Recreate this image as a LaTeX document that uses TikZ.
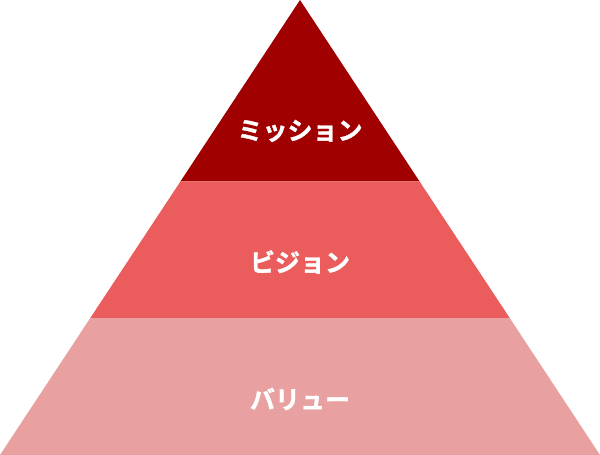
\documentclass[tikz,border=0pt]{standalone}
\usepackage{fontspec}
\newfontfamily\jpfont{Noto Sans CJK JP}[UprightFont={* Bold},FakeBold=1.5]
\definecolor{topc}{HTML}{A00000}
\definecolor{midc}{HTML}{EB5C5C}
\definecolor{botc}{HTML}{E8A0A0}
\begin{document}
\begin{tikzpicture}[x=1bp,y=-1bp,
  lbl/.style={text=white,font=\jpfont\fontsize{25bp}{28bp}\selectfont,inner sep=0pt}]
\useasboundingbox (0,0) rectangle (600,455);
\coordinate (apex) at (300,0);
\coordinate (l1) at (180.4,181.5);
\coordinate (r1) at (419.6,181.5);
\coordinate (l2) at (90.3,318);
\coordinate (r2) at (509.7,318);
\coordinate (bl) at (0,455);
\coordinate (br) at (600,455);
\fill[topc] (apex) -- (r1) -- (l1) -- cycle;
\fill[midc] (l1) -- (r1) -- (r2) -- (l2) -- cycle;
\fill[botc] (l2) -- (r2) -- (br) -- (bl) -- cycle;
\node[lbl] (t1) at (300,131) {ミッション};
\node[lbl] (t2) at (300,262) {ビジョン};
\node[lbl] (t3) at (300,399) {バリュー};
\end{tikzpicture}
\end{document}
